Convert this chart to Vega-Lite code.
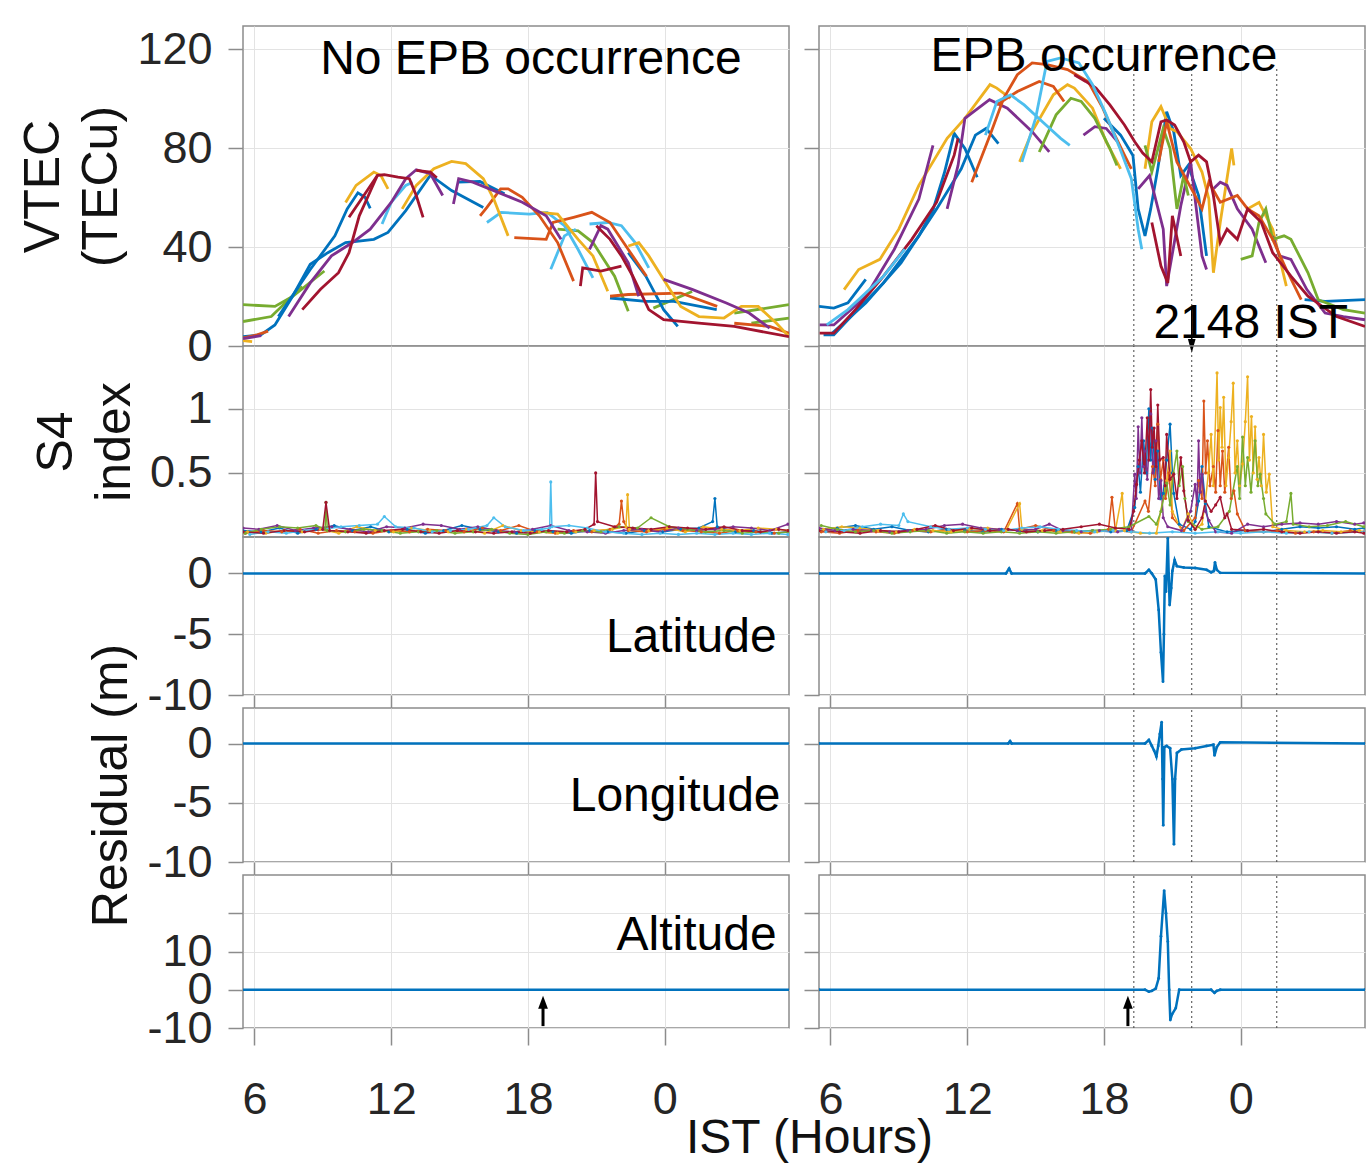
{
"$schema": "https://vega.github.io/schema/vega-lite/v6.json",
"background": "white",
"padding": {"left": 18, "top": 25, "right": 2, "bottom": 0},
"config": {
 "font": "Liberation Sans",
 "view": {"stroke": "#8c8c8c", "strokeWidth": 1.5},
 "axis": {"domain": false, "labelOverlap": false, "labelFont": "Liberation Sans", "labelFontSize": 45, "labelColor": "#262626", "titleFont": "Liberation Sans", "titleFontSize": 50, "titleFontWeight": "normal", "titleColor": "#111111", "gridColor": "#e3e3e3", "gridWidth": 1, "tickColor": "#8c8c8c", "tickWidth": 1.5, "grid": true},
 "text": {"font": "Liberation Sans"}
},
"datasets": {
 "vl": [
  {"s":"G1","c":"g","t":5.5,"v":16.7},{"s":"G1","c":"g","t":6.9,"v":16},{"s":"G1","c":"g","t":7.67,"v":20},{"s":"G1","c":"g","t":9.07,"v":30.3},
  {"s":"G2","c":"g","t":5.5,"v":9.9},{"s":"G2","c":"g","t":6.74,"v":11.9},{"s":"G2","c":"g","t":8.1,"v":24},
  {"s":"G3","c":"g","t":19.3,"v":47.2},{"s":"G3","c":"g","t":20.2,"v":46.5},{"s":"G3","c":"g","t":20.85,"v":41.8},{"s":"G3","c":"g","t":21.8,"v":28.2},{"s":"G3","c":"g","t":22.4,"v":14},
  {"s":"G4","c":"g","t":23.5,"v":15.3},{"s":"G4","c":"g","t":25.2,"v":22},
  {"s":"G5","c":"g","t":27.8,"v":9.2},{"s":"G5","c":"g","t":29.45,"v":11.3},
  {"s":"G6","c":"g","t":27.05,"v":13.3},{"s":"G6","c":"g","t":29.45,"v":16.7},
  {"s":"B1","c":"b","t":5.5,"v":3.8},{"s":"B1","c":"b","t":6.28,"v":4.5},{"s":"B1","c":"b","t":6.9,"v":8.5},{"s":"B1","c":"b","t":7.67,"v":20},{"s":"B1","c":"b","t":8.45,"v":33},{"s":"B1","c":"b","t":9.22,"v":37.7},{"s":"B1","c":"b","t":10,"v":41.8},{"s":"B1","c":"b","t":11.24,"v":43.1},{"s":"B1","c":"b","t":11.86,"v":45.9},{"s":"B1","c":"b","t":12.64,"v":54.7},{"s":"B1","c":"b","t":13.72,"v":69},{"s":"B1","c":"b","t":14.65,"v":62.8},{"s":"B1","c":"b","t":16.04,"v":56},
  {"s":"B2","c":"b","t":7.05,"v":11.9},{"s":"B2","c":"b","t":8.45,"v":30.9},{"s":"B2","c":"b","t":9.53,"v":44.5},{"s":"B2","c":"b","t":10.07,"v":55.4},{"s":"B2","c":"b","t":10.54,"v":61.9},{"s":"B2","c":"b","t":10.85,"v":60.1},{"s":"B2","c":"b","t":11.08,"v":55.6},
  {"s":"B5","c":"b","t":14.96,"v":66.2},{"s":"B5","c":"b","t":15.89,"v":66.5},{"s":"B5","c":"b","t":16.97,"v":61.5},
  {"s":"B6","c":"b","t":21.6,"v":19.4},{"s":"B6","c":"b","t":23.17,"v":18},{"s":"B6","c":"b","t":24.4,"v":18},{"s":"B6","c":"b","t":26.28,"v":14.7},
  {"s":"B7","c":"b","t":22.4,"v":37.7},{"s":"B7","c":"b","t":23.17,"v":28.2},{"s":"B7","c":"b","t":23.95,"v":14.7},{"s":"B7","c":"b","t":24.57,"v":7.9},
  {"s":"C1","c":"c","t":11.6,"v":49.3},{"s":"C1","c":"c","t":12.0,"v":58},{"s":"C1","c":"c","t":12.64,"v":64.9},{"s":"C1","c":"c","t":12.94,"v":66.2},
  {"s":"C2","c":"c","t":16.2,"v":49.9},{"s":"C2","c":"c","t":16.82,"v":54},{"s":"C2","c":"c","t":18.06,"v":53.3},{"s":"C2","c":"c","t":18.84,"v":54},{"s":"C2","c":"c","t":19.6,"v":48.6},{"s":"C2","c":"c","t":20.2,"v":39},{"s":"C2","c":"c","t":20.85,"v":27.5},
  {"s":"C3","c":"c","t":19.0,"v":31},{"s":"C3","c":"c","t":19.6,"v":44.5},{"s":"C3","c":"c","t":20.1,"v":47.2},
  {"s":"C4","c":"c","t":20.7,"v":49.3},{"s":"C4","c":"c","t":21.5,"v":49.9},{"s":"C4","c":"c","t":22.1,"v":48.6},{"s":"C4","c":"c","t":22.7,"v":41.8},{"s":"C4","c":"c","t":23.3,"v":31.6},
  {"s":"O1","c":"o","t":5.5,"v":3.3},{"s":"O1","c":"o","t":6.12,"v":4.5},{"s":"O1","c":"o","t":6.6,"v":6},
  {"s":"O2","c":"o","t":15.9,"v":52.6},{"s":"O2","c":"o","t":16.2,"v":56},{"s":"O2","c":"o","t":16.8,"v":63.5},{"s":"O2","c":"o","t":17.13,"v":63.5},{"s":"O2","c":"o","t":17.75,"v":60.1},{"s":"O2","c":"o","t":18.5,"v":52.6},{"s":"O2","c":"o","t":19.3,"v":41.8},{"s":"O2","c":"o","t":20.0,"v":26.2},
  {"s":"O3","c":"o","t":17.4,"v":43.8},{"s":"O3","c":"o","t":18.8,"v":43.1},{"s":"O3","c":"o","t":19.1,"v":49.9},{"s":"O3","c":"o","t":20.0,"v":52},{"s":"O3","c":"o","t":20.8,"v":54},{"s":"O3","c":"o","t":21.6,"v":49.9},{"s":"O3","c":"o","t":22.4,"v":39},{"s":"O3","c":"o","t":23.2,"v":28.2},
  {"s":"O4","c":"o","t":21.6,"v":20.1},{"s":"O4","c":"o","t":22.4,"v":20.8},{"s":"O4","c":"o","t":24.7,"v":21.4},{"s":"O4","c":"o","t":26.3,"v":16},
  {"s":"O5","c":"o","t":27.05,"v":9.2},{"s":"O5","c":"o","t":28.6,"v":7.9},{"s":"O5","c":"o","t":29.45,"v":5.2},
  {"s":"Y1","c":"y","t":10.0,"v":58},{"s":"Y1","c":"y","t":10.46,"v":64.9},{"s":"Y1","c":"y","t":11.24,"v":70.3},{"s":"Y1","c":"y","t":11.55,"v":68.9},{"s":"Y1","c":"y","t":11.86,"v":63.5},
  {"s":"Y2","c":"y","t":12.48,"v":55.4},{"s":"Y2","c":"y","t":13.1,"v":64.9},{"s":"Y2","c":"y","t":13.87,"v":71.6},{"s":"Y2","c":"y","t":14.65,"v":74.6},{"s":"Y2","c":"y","t":15.27,"v":73.7},{"s":"Y2","c":"y","t":16.04,"v":67.6},{"s":"Y2","c":"y","t":16.5,"v":59.4},{"s":"Y2","c":"y","t":17.13,"v":44.5},
  {"s":"Y3","c":"y","t":18.5,"v":54},{"s":"Y3","c":"y","t":19.3,"v":53.3},{"s":"Y3","c":"y","t":20.2,"v":43.1},{"s":"Y3","c":"y","t":20.85,"v":36.4},{"s":"Y3","c":"y","t":21.5,"v":22.1},
  {"s":"Y4","c":"y","t":22.4,"v":40.4},{"s":"Y4","c":"y","t":22.86,"v":41.8},{"s":"Y4","c":"y","t":23.3,"v":36.4},{"s":"Y4","c":"y","t":23.95,"v":26.9},{"s":"Y4","c":"y","t":24.7,"v":16},{"s":"Y4","c":"y","t":25.5,"v":11.9},{"s":"Y4","c":"y","t":26.6,"v":11.3},{"s":"Y4","c":"y","t":27.36,"v":16},{"s":"Y4","c":"y","t":28.1,"v":16},{"s":"Y4","c":"y","t":28.9,"v":9.2},{"s":"Y4","c":"y","t":29.45,"v":3.8},
  {"s":"Y5","c":"y","t":5.5,"v":2.2},{"s":"Y5","c":"y","t":5.9,"v":1.8},
  {"s":"P1","c":"p","t":7.5,"v":11.9},{"s":"P1","c":"p","t":8.45,"v":25.5},{"s":"P1","c":"p","t":9.38,"v":36.4},{"s":"P1","c":"p","t":10.3,"v":41.8},{"s":"P1","c":"p","t":11.08,"v":47.2},{"s":"P1","c":"p","t":12.0,"v":58},{"s":"P1","c":"p","t":12.64,"v":67.6},{"s":"P1","c":"p","t":13.1,"v":71.2},{"s":"P1","c":"p","t":13.72,"v":69.6},{"s":"P1","c":"p","t":14.26,"v":60.8},
  {"s":"P2","c":"p","t":14.73,"v":57.4},{"s":"P2","c":"p","t":14.96,"v":67.6},{"s":"P2","c":"p","t":15.58,"v":66.2},{"s":"P2","c":"p","t":16.5,"v":62.8},{"s":"P2","c":"p","t":17.75,"v":58.1},{"s":"P2","c":"p","t":18.8,"v":52.6},{"s":"P2","c":"p","t":19.45,"v":43.1},
  {"s":"P3","c":"p","t":20.7,"v":39},{"s":"P3","c":"p","t":21.2,"v":48.6},{"s":"P3","c":"p","t":21.5,"v":47.2},{"s":"P3","c":"p","t":22.4,"v":33.6},{"s":"P3","c":"p","t":22.86,"v":20.1},
  {"s":"P4","c":"p","t":23.95,"v":26.9},{"s":"P4","c":"p","t":25.2,"v":22.9},{"s":"P4","c":"p","t":26.7,"v":17.4},{"s":"P4","c":"p","t":27.7,"v":13.3},{"s":"P4","c":"p","t":28.6,"v":7.2},
  {"s":"P5","c":"p","t":5.5,"v":3},{"s":"P5","c":"p","t":6.3,"v":4.2},
  {"s":"R1","c":"r","t":8.1,"v":14.7},{"s":"R1","c":"r","t":8.9,"v":22.9},{"s":"R1","c":"r","t":9.69,"v":29.6},{"s":"R1","c":"r","t":10.15,"v":37.7},{"s":"R1","c":"r","t":10.6,"v":52.6},{"s":"R1","c":"r","t":11.4,"v":69},{"s":"R1","c":"r","t":11.7,"v":69.2},{"s":"R1","c":"r","t":12.3,"v":68.2},{"s":"R1","c":"r","t":12.8,"v":67.6},{"s":"R1","c":"r","t":13.1,"v":60.8},{"s":"R1","c":"r","t":13.4,"v":52},
  {"s":"R2","c":"r","t":10.15,"v":52},{"s":"R2","c":"r","t":10.8,"v":60.8},{"s":"R2","c":"r","t":11.4,"v":69},
  {"s":"R3","c":"r","t":13.1,"v":71},{"s":"R3","c":"r","t":13.72,"v":70.3},{"s":"R3","c":"r","t":14.0,"v":68},
  {"s":"R4","c":"r","t":21.0,"v":48.6},{"s":"R4","c":"r","t":21.6,"v":43.1},{"s":"R4","c":"r","t":22.1,"v":36.4},{"s":"R4","c":"r","t":22.6,"v":28.2},{"s":"R4","c":"r","t":23.3,"v":14.7},{"s":"R4","c":"r","t":23.95,"v":10.6},{"s":"R4","c":"r","t":25.5,"v":9.2},{"s":"R4","c":"r","t":27.05,"v":7.9},{"s":"R4","c":"r","t":29.45,"v":3.8},
  {"s":"R5","c":"r","t":20.3,"v":24.2},{"s":"R5","c":"r","t":20.4,"v":31.6},{"s":"R5","c":"r","t":21.2,"v":30.3},{"s":"R5","c":"r","t":22.1,"v":32.3}
 ],
 "vr": [
  {"s":"b1","c":"b","t":5.5,"v":16},{"s":"b1","c":"b","t":6.15,"v":15.3},{"s":"b1","c":"b","t":6.77,"v":17.4},{"s":"b1","c":"b","t":7.55,"v":26.9},
  {"s":"b2","c":"b","t":5.7,"v":4.5},{"s":"b2","c":"b","t":6.15,"v":4.5},{"s":"b2","c":"b","t":6.77,"v":10.6},{"s":"b2","c":"b","t":8.33,"v":25.5},{"s":"b2","c":"b","t":9.88,"v":44.5},{"s":"b2","c":"b","t":10.5,"v":55},{"s":"b2","c":"b","t":11.0,"v":70},{"s":"b2","c":"b","t":11.43,"v":85.9},{"s":"b2","c":"b","t":11.9,"v":79.8},{"s":"b2","c":"b","t":12.44,"v":68.2},
  {"s":"b3","c":"b","t":6.0,"v":4.5},{"s":"b3","c":"b","t":7.55,"v":17.4},{"s":"b3","c":"b","t":9.1,"v":33.6},{"s":"b3","c":"b","t":10.66,"v":55.4},{"s":"b3","c":"b","t":11.74,"v":71.6},{"s":"b3","c":"b","t":12.36,"v":85.2},{"s":"b3","c":"b","t":12.83,"v":87.9},{"s":"b3","c":"b","t":13.37,"v":81.8},
  {"s":"b4","c":"b","t":18.0,"v":92},{"s":"b4","c":"b","t":18.73,"v":85.2},{"s":"b4","c":"b","t":19.27,"v":77},{"s":"b4","c":"b","t":19.5,"v":55.4},{"s":"b4","c":"b","t":19.8,"v":44.5},{"s":"b4","c":"b","t":20.05,"v":55.4},{"s":"b4","c":"b","t":20.36,"v":71.6},{"s":"b4","c":"b","t":20.75,"v":94.7},{"s":"b4","c":"b","t":21.06,"v":86.6},{"s":"b4","c":"b","t":21.37,"v":68.9},{"s":"b4","c":"b","t":21.7,"v":73},{"s":"b4","c":"b","t":22.15,"v":60.8},{"s":"b4","c":"b","t":22.5,"v":36.4},
  {"s":"b5","c":"b","t":26.8,"v":18.7},{"s":"b5","c":"b","t":27.7,"v":18},{"s":"b5","c":"b","t":29.45,"v":18.7},
  {"s":"y1","c":"y","t":6.6,"v":22.8},{"s":"y1","c":"y","t":7.24,"v":30.9},{"s":"y1","c":"y","t":8.17,"v":35},{"s":"y1","c":"y","t":9.0,"v":47.2},{"s":"y1","c":"y","t":9.88,"v":64.9},{"s":"y1","c":"y","t":11.12,"v":83.9},{"s":"y1","c":"y","t":11.9,"v":92},{"s":"y1","c":"y","t":13.0,"v":105.6},{"s":"y1","c":"y","t":13.3,"v":104.2},{"s":"y1","c":"y","t":13.9,"v":100.1},
  {"s":"y2","c":"y","t":14.3,"v":74.4},{"s":"y2","c":"y","t":14.85,"v":86.6},{"s":"y2","c":"y","t":15.78,"v":101.5},{"s":"y2","c":"y","t":16.4,"v":105.6},{"s":"y2","c":"y","t":16.7,"v":104.2},{"s":"y2","c":"y","t":17.5,"v":96.1},{"s":"y2","c":"y","t":18.1,"v":82.5},{"s":"y2","c":"y","t":18.73,"v":71.6},
  {"s":"y3","c":"y","t":19.8,"v":71.6},{"s":"y3","c":"y","t":20.1,"v":90.6},{"s":"y3","c":"y","t":20.5,"v":96.7},{"s":"y3","c":"y","t":20.9,"v":87.9},{"s":"y3","c":"y","t":21.2,"v":86.6},{"s":"y3","c":"y","t":21.8,"v":79.8},{"s":"y3","c":"y","t":22.3,"v":70.3},{"s":"y3","c":"y","t":22.6,"v":59.4},{"s":"y3","c":"y","t":22.8,"v":29.6},{"s":"y3","c":"y","t":23.1,"v":49.9},{"s":"y3","c":"y","t":23.6,"v":79.8},{"s":"y3","c":"y","t":23.7,"v":73},
  {"s":"y4","c":"y","t":24.3,"v":55.4},{"s":"y4","c":"y","t":24.8,"v":58},{"s":"y4","c":"y","t":25.4,"v":47.2},{"s":"y4","c":"y","t":26.0,"v":24.2},
  {"s":"p1","c":"p","t":5.53,"v":8.5},{"s":"p1","c":"p","t":6.15,"v":8.5},{"s":"p1","c":"p","t":7.55,"v":20},{"s":"p1","c":"p","t":8.8,"v":39},{"s":"p1","c":"p","t":9.88,"v":59.4},{"s":"p1","c":"p","t":10.5,"v":81.1},
  {"s":"p2","c":"p","t":11.12,"v":55.4},{"s":"p2","c":"p","t":11.6,"v":73},{"s":"p2","c":"p","t":11.9,"v":92},{"s":"p2","c":"p","t":12.98,"v":99.5},{"s":"p2","c":"p","t":13.76,"v":96.1},{"s":"p2","c":"p","t":14.85,"v":86.6},{"s":"p2","c":"p","t":15.6,"v":78.4},
  {"s":"p3","c":"p","t":17.1,"v":85.2},{"s":"p3","c":"p","t":17.6,"v":88.6},{"s":"p3","c":"p","t":18.1,"v":87.9},{"s":"p3","c":"p","t":18.6,"v":82.5},
  {"s":"p4","c":"p","t":19.5,"v":63.5},{"s":"p4","c":"p","t":20.0,"v":68.9},{"s":"p4","c":"p","t":20.6,"v":47.2},{"s":"p4","c":"p","t":20.75,"v":24.2},{"s":"p4","c":"p","t":21.37,"v":56.7},{"s":"p4","c":"p","t":21.8,"v":74.4},{"s":"p4","c":"p","t":22.3,"v":36.4},{"s":"p4","c":"p","t":22.5,"v":30.9},
  {"s":"p5","c":"p","t":22.8,"v":63.5},{"s":"p5","c":"p","t":23.1,"v":66.2},{"s":"p5","c":"p","t":23.4,"v":64.9},{"s":"p5","c":"p","t":23.85,"v":55.4},{"s":"p5","c":"p","t":24.5,"v":47.2},{"s":"p5","c":"p","t":25.1,"v":33.6},
  {"s":"p6","c":"p","t":25.4,"v":44.5},{"s":"p6","c":"p","t":25.7,"v":36.4},{"s":"p6","c":"p","t":26.2,"v":35},{"s":"p6","c":"p","t":26.9,"v":22.8},{"s":"p6","c":"p","t":27.7,"v":13.3},{"s":"p6","c":"p","t":28.5,"v":11.9},{"s":"p6","c":"p","t":29.45,"v":10.6},
  {"s":"g1","c":"g","t":15.16,"v":78.4},{"s":"g1","c":"g","t":15.9,"v":93.4},{"s":"g1","c":"g","t":16.55,"v":100.1},{"s":"g1","c":"g","t":17.0,"v":98.8},{"s":"g1","c":"g","t":17.6,"v":92},{"s":"g1","c":"g","t":18.26,"v":79.8},{"s":"g1","c":"g","t":18.57,"v":73},
  {"s":"g2","c":"g","t":19.8,"v":81.1},{"s":"g2","c":"g","t":20.1,"v":70.3},{"s":"g2","c":"g","t":20.6,"v":87.9},{"s":"g2","c":"g","t":20.9,"v":79.8},{"s":"g2","c":"g","t":21.2,"v":55.4},{"s":"g2","c":"g","t":21.5,"v":68.9},{"s":"g2","c":"g","t":21.7,"v":60.8},
  {"s":"g3","c":"g","t":24.0,"v":35},{"s":"g3","c":"g","t":24.5,"v":36.4},{"s":"g3","c":"g","t":24.8,"v":49.9},{"s":"g3","c":"g","t":25.1,"v":55.4},{"s":"g3","c":"g","t":25.4,"v":43.1},{"s":"g3","c":"g","t":25.9,"v":44.5},{"s":"g3","c":"g","t":26.2,"v":43.1},{"s":"g3","c":"g","t":26.95,"v":29.6},{"s":"g3","c":"g","t":27.4,"v":18.7},{"s":"g3","c":"g","t":28.5,"v":14.7},{"s":"g3","c":"g","t":29.45,"v":13.3},
  {"s":"o1","c":"o","t":12.2,"v":66.2},{"s":"o1","c":"o","t":13.0,"v":85.2},{"s":"o1","c":"o","t":13.6,"v":100.1},{"s":"o1","c":"o","t":14.2,"v":109.6},{"s":"o1","c":"o","t":14.85,"v":114.4},{"s":"o1","c":"o","t":15.5,"v":113.7},{"s":"o1","c":"o","t":16.4,"v":111.7},{"s":"o1","c":"o","t":17.3,"v":106.9},{"s":"o1","c":"o","t":17.95,"v":96.1},{"s":"o1","c":"o","t":18.4,"v":86.6},{"s":"o1","c":"o","t":18.9,"v":77.1},{"s":"o1","c":"o","t":19.2,"v":71.6},
  {"s":"o2","c":"o","t":13.3,"v":97.4},{"s":"o2","c":"o","t":14.2,"v":102.8},{"s":"o2","c":"o","t":15.16,"v":106.9},{"s":"o2","c":"o","t":15.78,"v":104.9},{"s":"o2","c":"o","t":16.25,"v":98.8},
  {"s":"o4","c":"o","t":20.4,"v":74.4},{"s":"o4","c":"o","t":20.75,"v":90.6},{"s":"o4","c":"o","t":21.2,"v":74.4},{"s":"o4","c":"o","t":22.0,"v":60.8},{"s":"o4","c":"o","t":22.3,"v":55.4},{"s":"o4","c":"o","t":22.6,"v":66.2},{"s":"o4","c":"o","t":23.1,"v":58.1},{"s":"o4","c":"o","t":23.85,"v":60.8},{"s":"o4","c":"o","t":24.3,"v":55.4},{"s":"o4","c":"o","t":24.8,"v":52.6},{"s":"o4","c":"o","t":25.4,"v":43.1},{"s":"o4","c":"o","t":26.0,"v":30.9},{"s":"o4","c":"o","t":26.65,"v":18.7},
  {"s":"r1","c":"r","t":5.53,"v":5.2},{"s":"r1","c":"r","t":6.15,"v":5.2},{"s":"r1","c":"r","t":7.1,"v":14.7},{"s":"r1","c":"r","t":8.33,"v":28.2},{"s":"r1","c":"r","t":9.57,"v":43.1},{"s":"r1","c":"r","t":10.66,"v":58.1},{"s":"r1","c":"r","t":11.43,"v":77.1},{"s":"r1","c":"r","t":11.6,"v":83.9},
  {"s":"r2","c":"r","t":16.7,"v":109.6},{"s":"r2","c":"r","t":17.2,"v":106.9},{"s":"r2","c":"r","t":17.65,"v":104.2},{"s":"r2","c":"r","t":18.26,"v":97.4},{"s":"r2","c":"r","t":18.9,"v":89.3},{"s":"r2","c":"r","t":19.35,"v":82.5},{"s":"r2","c":"r","t":19.7,"v":78},{"s":"r2","c":"r","t":20.1,"v":74.4},{"s":"r2","c":"r","t":20.5,"v":90.6},{"s":"r2","c":"r","t":20.75,"v":91.3},{"s":"r2","c":"r","t":21.1,"v":89.3},{"s":"r2","c":"r","t":21.5,"v":82.5},{"s":"r2","c":"r","t":21.8,"v":74.4},{"s":"r2","c":"r","t":22.15,"v":77.1},{"s":"r2","c":"r","t":22.5,"v":74.4},{"s":"r2","c":"r","t":22.8,"v":60.8},{"s":"r2","c":"r","t":23.1,"v":41.8},{"s":"r2","c":"r","t":23.4,"v":47.2},{"s":"r2","c":"r","t":23.85,"v":43.1},{"s":"r2","c":"r","t":24.3,"v":55.4},{"s":"r2","c":"r","t":24.9,"v":50},{"s":"r2","c":"r","t":25.4,"v":37.7},{"s":"r2","c":"r","t":26.2,"v":28.2},{"s":"r2","c":"r","t":26.95,"v":20.1},{"s":"r2","c":"r","t":28.2,"v":11.9},{"s":"r2","c":"r","t":29.45,"v":7.9},
  {"s":"r3","c":"r","t":20.1,"v":49.9},{"s":"r3","c":"r","t":20.5,"v":32.3},{"s":"r3","c":"r","t":20.8,"v":25.5},{"s":"r3","c":"r","t":21.0,"v":52.6},{"s":"r3","c":"r","t":21.37,"v":36.4},
  {"s":"c1","c":"c","t":12.8,"v":85.2},{"s":"c1","c":"c","t":13.3,"v":98.8},{"s":"c1","c":"c","t":13.9,"v":101.5},{"s":"c1","c":"c","t":14.5,"v":97.4},{"s":"c1","c":"c","t":15.3,"v":90.6},{"s":"c1","c":"c","t":16.1,"v":83.9},{"s":"c1","c":"c","t":16.5,"v":81.1},
  {"s":"c2","c":"c","t":14.4,"v":74.4},{"s":"c2","c":"c","t":15.0,"v":92},{"s":"c2","c":"c","t":15.5,"v":115},{"s":"c2","c":"c","t":16.1,"v":116.4},{"s":"c2","c":"c","t":16.9,"v":114.4},{"s":"c2","c":"c","t":17.5,"v":105.6},{"s":"c2","c":"c","t":18.1,"v":93.4},{"s":"c2","c":"c","t":18.7,"v":79.8},{"s":"c2","c":"c","t":19.2,"v":67.6},{"s":"c2","c":"c","t":19.5,"v":47.2},{"s":"c2","c":"c","t":19.66,"v":39.1},
  {"s":"c3","c":"c","t":5.84,"v":8.5},{"s":"c3","c":"c","t":6.77,"v":14.7},{"s":"c3","c":"c","t":8.33,"v":28.2},{"s":"c3","c":"c","t":9.26,"v":39.1}
 ],
 "sl": [
  {"c":"b","t":5.5,"v":0.05},{"c":"b","t":6.3,"v":0.04},{"c":"b","t":7.1,"v":0.07},{"c":"b","t":7.9,"v":0.03},{"c":"b","t":8.7,"v":0.06},{"c":"b","t":9.5,"v":0.09},{"c":"b","t":10.3,"v":0.05},{"c":"b","t":11.1,"v":0.08},{"c":"b","t":11.9,"v":0.04},{"c":"b","t":12.7,"v":0.06},{"c":"b","t":13.5,"v":0.03},{"c":"b","t":14.3,"v":0.05},{"c":"b","t":15.1,"v":0.09},{"c":"b","t":15.9,"v":0.06},{"c":"b","t":16.7,"v":0.04},{"c":"b","t":17.5,"v":0.03},{"c":"b","t":18.3,"v":0.05},{"c":"b","t":19.1,"v":0.04},{"c":"b","t":19.9,"v":0.03},{"c":"b","t":20.7,"v":0.05},{"c":"b","t":21.5,"v":0.04},{"c":"b","t":22.3,"v":0.03},{"c":"b","t":23.1,"v":0.05},{"c":"b","t":23.9,"v":0.04},{"c":"b","t":24.7,"v":0.06},{"c":"b","t":25.5,"v":0.07},{"c":"b","t":26.1,"v":0.12},{"c":"b","t":26.2,"v":0.3},{"c":"b","t":26.3,"v":0.08},{"c":"b","t":27.1,"v":0.04},{"c":"b","t":27.9,"v":0.05},{"c":"b","t":28.7,"v":0.03},{"c":"b","t":29.4,"v":0.04},
  {"c":"o","t":5.6,"v":0.03},{"c":"o","t":6.4,"v":0.05},{"c":"o","t":7.2,"v":0.04},{"c":"o","t":8.0,"v":0.06},{"c":"o","t":8.8,"v":0.03},{"c":"o","t":9.6,"v":0.05},{"c":"o","t":10.4,"v":0.04},{"c":"o","t":11.2,"v":0.03},{"c":"o","t":12.0,"v":0.05},{"c":"o","t":12.8,"v":0.04},{"c":"o","t":13.6,"v":0.06},{"c":"o","t":14.4,"v":0.05},{"c":"o","t":15.2,"v":0.04},{"c":"o","t":16.0,"v":0.07},{"c":"o","t":16.8,"v":0.05},{"c":"o","t":17.6,"v":0.09},{"c":"o","t":18.4,"v":0.04},{"c":"o","t":19.2,"v":0.03},{"c":"o","t":20.0,"v":0.05},{"c":"o","t":20.8,"v":0.04},{"c":"o","t":21.6,"v":0.06},{"c":"o","t":22.0,"v":0.1},{"c":"o","t":22.1,"v":0.28},{"c":"o","t":22.2,"v":0.12},{"c":"o","t":22.4,"v":0.05},{"c":"o","t":23.2,"v":0.04},{"c":"o","t":24.0,"v":0.06},{"c":"o","t":24.8,"v":0.05},{"c":"o","t":25.6,"v":0.04},{"c":"o","t":26.4,"v":0.03},{"c":"o","t":27.2,"v":0.05},{"c":"o","t":28.0,"v":0.04},{"c":"o","t":28.8,"v":0.03},{"c":"o","t":29.4,"v":0.04},
  {"c":"y","t":5.7,"v":0.04},{"c":"y","t":6.5,"v":0.03},{"c":"y","t":7.3,"v":0.05},{"c":"y","t":8.1,"v":0.04},{"c":"y","t":8.9,"v":0.06},{"c":"y","t":9.7,"v":0.03},{"c":"y","t":10.5,"v":0.08},{"c":"y","t":11.3,"v":0.05},{"c":"y","t":12.1,"v":0.04},{"c":"y","t":12.9,"v":0.07},{"c":"y","t":13.7,"v":0.05},{"c":"y","t":14.5,"v":0.04},{"c":"y","t":15.3,"v":0.06},{"c":"y","t":16.1,"v":0.03},{"c":"y","t":16.9,"v":0.09},{"c":"y","t":17.7,"v":0.05},{"c":"y","t":18.5,"v":0.04},{"c":"y","t":19.3,"v":0.03},{"c":"y","t":20.1,"v":0.04},{"c":"y","t":20.9,"v":0.05},{"c":"y","t":21.7,"v":0.06},{"c":"y","t":22.3,"v":0.08},{"c":"y","t":22.37,"v":0.33},{"c":"y","t":22.45,"v":0.06},{"c":"y","t":23.3,"v":0.05},{"c":"y","t":24.1,"v":0.07},{"c":"y","t":24.9,"v":0.04},{"c":"y","t":25.7,"v":0.08},{"c":"y","t":26.5,"v":0.06},{"c":"y","t":27.3,"v":0.05},{"c":"y","t":28.1,"v":0.07},{"c":"y","t":28.9,"v":0.06},{"c":"y","t":29.4,"v":0.05},
  {"c":"p","t":5.5,"v":0.07},{"c":"p","t":6.2,"v":0.06},{"c":"p","t":7.0,"v":0.09},{"c":"p","t":7.8,"v":0.05},{"c":"p","t":8.6,"v":0.07},{"c":"p","t":9.4,"v":0.08},{"c":"p","t":10.2,"v":0.06},{"c":"p","t":11.0,"v":0.04},{"c":"p","t":11.8,"v":0.08},{"c":"p","t":12.6,"v":0.07},{"c":"p","t":13.4,"v":0.1},{"c":"p","t":14.2,"v":0.09},{"c":"p","t":15.0,"v":0.06},{"c":"p","t":15.8,"v":0.08},{"c":"p","t":16.6,"v":0.05},{"c":"p","t":17.4,"v":0.04},{"c":"p","t":18.2,"v":0.06},{"c":"p","t":19.0,"v":0.09},{"c":"p","t":19.8,"v":0.05},{"c":"p","t":20.6,"v":0.04},{"c":"p","t":21.4,"v":0.03},{"c":"p","t":22.2,"v":0.05},{"c":"p","t":23.0,"v":0.06},{"c":"p","t":23.8,"v":0.04},{"c":"p","t":24.6,"v":0.07},{"c":"p","t":25.4,"v":0.05},{"c":"p","t":26.2,"v":0.06},{"c":"p","t":27.0,"v":0.08},{"c":"p","t":27.8,"v":0.07},{"c":"p","t":28.6,"v":0.05},{"c":"p","t":29.4,"v":0.1},
  {"c":"g","t":5.6,"v":0.03},{"c":"g","t":6.3,"v":0.06},{"c":"g","t":7.1,"v":0.08},{"c":"g","t":7.9,"v":0.07},{"c":"g","t":8.7,"v":0.09},{"c":"g","t":9.1,"v":0.06},{"c":"g","t":9.14,"v":0.27},{"c":"g","t":9.2,"v":0.05},{"c":"g","t":10.0,"v":0.04},{"c":"g","t":10.8,"v":0.06},{"c":"g","t":11.6,"v":0.05},{"c":"g","t":12.4,"v":0.03},{"c":"g","t":13.2,"v":0.04},{"c":"g","t":14.0,"v":0.05},{"c":"g","t":14.8,"v":0.03},{"c":"g","t":15.6,"v":0.04},{"c":"g","t":16.4,"v":0.06},{"c":"g","t":17.2,"v":0.03},{"c":"g","t":18.0,"v":0.02},{"c":"g","t":18.8,"v":0.04},{"c":"g","t":19.6,"v":0.03},{"c":"g","t":20.4,"v":0.05},{"c":"g","t":21.2,"v":0.04},{"c":"g","t":22.0,"v":0.08},{"c":"g","t":22.8,"v":0.07},{"c":"g","t":23.4,"v":0.15},{"c":"g","t":24.2,"v":0.08},{"c":"g","t":25.0,"v":0.06},{"c":"g","t":25.8,"v":0.04},{"c":"g","t":26.6,"v":0.05},{"c":"g","t":27.4,"v":0.03},{"c":"g","t":28.2,"v":0.04},{"c":"g","t":29.0,"v":0.03},{"c":"g","t":29.4,"v":0.04},
  {"c":"c","t":5.8,"v":0.02},{"c":"c","t":6.6,"v":0.04},{"c":"c","t":7.4,"v":0.03},{"c":"c","t":8.2,"v":0.05},{"c":"c","t":9.0,"v":0.06},{"c":"c","t":9.8,"v":0.08},{"c":"c","t":10.6,"v":0.09},{"c":"c","t":11.4,"v":0.1},{"c":"c","t":11.7,"v":0.16},{"c":"c","t":12.2,"v":0.08},{"c":"c","t":13.0,"v":0.07},{"c":"c","t":13.8,"v":0.04},{"c":"c","t":14.6,"v":0.05},{"c":"c","t":15.4,"v":0.06},{"c":"c","t":16.2,"v":0.09},{"c":"c","t":16.5,"v":0.15},{"c":"c","t":17.0,"v":0.08},{"c":"c","t":17.8,"v":0.05},{"c":"c","t":18.6,"v":0.06},{"c":"c","t":18.95,"v":0.07},{"c":"c","t":19.0,"v":0.43},{"c":"c","t":19.05,"v":0.08},{"c":"c","t":19.8,"v":0.09},{"c":"c","t":20.6,"v":0.07},{"c":"c","t":21.4,"v":0.04},{"c":"c","t":22.2,"v":0.03},{"c":"c","t":23.0,"v":0.02},{"c":"c","t":23.8,"v":0.03},{"c":"c","t":24.6,"v":0.02},{"c":"c","t":25.4,"v":0.03},{"c":"c","t":26.2,"v":0.02},{"c":"c","t":27.0,"v":0.03},{"c":"c","t":27.8,"v":0.02},{"c":"c","t":28.6,"v":0.03},{"c":"c","t":29.4,"v":0.02},
  {"c":"r","t":5.5,"v":0.04},{"c":"r","t":6.4,"v":0.03},{"c":"r","t":7.3,"v":0.05},{"c":"r","t":8.2,"v":0.04},{"c":"r","t":9.0,"v":0.06},{"c":"r","t":9.14,"v":0.27},{"c":"r","t":9.3,"v":0.05},{"c":"r","t":10.1,"v":0.04},{"c":"r","t":10.9,"v":0.03},{"c":"r","t":11.7,"v":0.05},{"c":"r","t":12.5,"v":0.06},{"c":"r","t":13.3,"v":0.04},{"c":"r","t":14.1,"v":0.03},{"c":"r","t":14.9,"v":0.05},{"c":"r","t":15.7,"v":0.04},{"c":"r","t":16.5,"v":0.03},{"c":"r","t":17.3,"v":0.04},{"c":"r","t":18.1,"v":0.03},{"c":"r","t":18.9,"v":0.05},{"c":"r","t":19.7,"v":0.04},{"c":"r","t":20.5,"v":0.06},{"c":"r","t":20.9,"v":0.1},{"c":"r","t":20.97,"v":0.5},{"c":"r","t":21.05,"v":0.12},{"c":"r","t":21.8,"v":0.08},{"c":"r","t":22.6,"v":0.07},{"c":"r","t":23.4,"v":0.06},{"c":"r","t":24.2,"v":0.08},{"c":"r","t":25.0,"v":0.07},{"c":"r","t":25.8,"v":0.06},{"c":"r","t":26.6,"v":0.08},{"c":"r","t":27.4,"v":0.05},{"c":"r","t":28.2,"v":0.04},{"c":"r","t":29.0,"v":0.06},{"c":"r","t":29.4,"v":0.05}
 ],
 "sr": [
  {"c":"b","t":5.5,"v":0.05},{"c":"b","t":6.3,"v":0.07},{"c":"b","t":7.1,"v":0.09},{"c":"b","t":7.9,"v":0.06},{"c":"b","t":8.7,"v":0.08},{"c":"b","t":9.5,"v":0.05},{"c":"b","t":10.3,"v":0.04},{"c":"b","t":11.1,"v":0.06},{"c":"b","t":11.9,"v":0.05},{"c":"b","t":12.7,"v":0.04},{"c":"b","t":13.5,"v":0.06},{"c":"b","t":14.3,"v":0.05},{"c":"b","t":15.1,"v":0.04},{"c":"b","t":15.9,"v":0.05},{"c":"b","t":16.7,"v":0.04},{"c":"b","t":17.5,"v":0.05},{"c":"b","t":18.3,"v":0.04},{"c":"b","t":19.0,"v":0.05},{"c":"b","t":19.35,"v":0.23},{"c":"b","t":19.5,"v":0.55},{"c":"b","t":19.6,"v":0.35},{"c":"b","t":19.74,"v":0.75},{"c":"b","t":19.85,"v":0.5},{"c":"b","t":19.97,"v":1.0},{"c":"b","t":20.05,"v":0.6},{"c":"b","t":20.13,"v":0.85},{"c":"b","t":20.25,"v":0.45},{"c":"b","t":20.36,"v":0.67},{"c":"b","t":20.48,"v":0.3},{"c":"b","t":20.6,"v":0.34},{"c":"b","t":20.75,"v":0.6},{"c":"b","t":20.9,"v":0.88},{"c":"b","t":21.0,"v":0.5},{"c":"b","t":21.06,"v":0.34},{"c":"b","t":21.3,"v":0.1},{"c":"b","t":21.8,"v":0.06},{"c":"b","t":22.0,"v":0.12},{"c":"b","t":22.15,"v":0.28},{"c":"b","t":22.3,"v":0.55},{"c":"b","t":22.45,"v":0.26},{"c":"b","t":22.6,"v":0.08},{"c":"b","t":23.4,"v":0.04},{"c":"b","t":24.2,"v":0.05},{"c":"b","t":25.0,"v":0.04},{"c":"b","t":25.8,"v":0.06},{"c":"b","t":26.6,"v":0.08},{"c":"b","t":27.4,"v":0.07},{"c":"b","t":28.2,"v":0.08},{"c":"b","t":29.0,"v":0.06},{"c":"b","t":29.4,"v":0.07},
  {"c":"o","t":5.6,"v":0.04},{"c":"o","t":6.4,"v":0.03},{"c":"o","t":7.2,"v":0.05},{"c":"o","t":8.0,"v":0.04},{"c":"o","t":8.8,"v":0.03},{"c":"o","t":9.6,"v":0.05},{"c":"o","t":10.4,"v":0.04},{"c":"o","t":11.2,"v":0.06},{"c":"o","t":12.0,"v":0.04},{"c":"o","t":12.8,"v":0.05},{"c":"o","t":13.6,"v":0.04},{"c":"o","t":14.2,"v":0.26},{"c":"o","t":14.3,"v":0.06},{"c":"o","t":15.0,"v":0.09},{"c":"o","t":15.8,"v":0.05},{"c":"o","t":16.6,"v":0.04},{"c":"o","t":17.4,"v":0.03},{"c":"o","t":18.2,"v":0.06},{"c":"o","t":18.35,"v":0.31},{"c":"o","t":18.5,"v":0.05},{"c":"o","t":19.2,"v":0.04},{"c":"o","t":19.8,"v":0.28},{"c":"o","t":19.95,"v":0.2},{"c":"o","t":20.13,"v":0.55},{"c":"o","t":20.25,"v":0.4},{"c":"o","t":20.36,"v":0.88},{"c":"o","t":20.48,"v":0.45},{"c":"o","t":20.6,"v":0.6},{"c":"o","t":20.7,"v":0.3},{"c":"o","t":20.85,"v":0.5},{"c":"o","t":21.0,"v":0.15},{"c":"o","t":21.5,"v":0.05},{"c":"o","t":22.0,"v":0.15},{"c":"o","t":22.15,"v":0.44},{"c":"o","t":22.3,"v":0.3},{"c":"o","t":22.38,"v":1.06},{"c":"o","t":22.46,"v":0.5},{"c":"o","t":22.54,"v":0.75},{"c":"o","t":22.65,"v":0.4},{"c":"o","t":22.8,"v":0.55},{"c":"o","t":22.9,"v":0.35},{"c":"o","t":23.0,"v":0.83},{"c":"o","t":23.1,"v":0.4},{"c":"o","t":23.2,"v":0.67},{"c":"o","t":23.3,"v":0.35},{"c":"o","t":23.47,"v":0.7},{"c":"o","t":23.58,"v":0.3},{"c":"o","t":23.7,"v":0.36},{"c":"o","t":23.85,"v":0.18},{"c":"o","t":24.2,"v":0.05},{"c":"o","t":25.0,"v":0.04},{"c":"o","t":25.6,"v":0.05},{"c":"o","t":26.4,"v":0.03},{"c":"o","t":27.2,"v":0.04},{"c":"o","t":28.0,"v":0.03},{"c":"o","t":28.8,"v":0.05},{"c":"o","t":29.4,"v":0.04},
  {"c":"y","t":5.7,"v":0.06},{"c":"y","t":6.5,"v":0.08},{"c":"y","t":7.3,"v":0.07},{"c":"y","t":8.1,"v":0.05},{"c":"y","t":8.9,"v":0.04},{"c":"y","t":9.7,"v":0.06},{"c":"y","t":10.5,"v":0.05},{"c":"y","t":11.3,"v":0.04},{"c":"y","t":12.1,"v":0.06},{"c":"y","t":12.9,"v":0.07},{"c":"y","t":13.7,"v":0.05},{"c":"y","t":14.3,"v":0.26},{"c":"y","t":14.4,"v":0.06},{"c":"y","t":15.3,"v":0.05},{"c":"y","t":16.1,"v":0.04},{"c":"y","t":16.9,"v":0.03},{"c":"y","t":17.7,"v":0.04},{"c":"y","t":18.5,"v":0.05},{"c":"y","t":18.8,"v":0.34},{"c":"y","t":18.9,"v":0.05},{"c":"y","t":19.6,"v":0.03},{"c":"y","t":20.3,"v":0.03},{"c":"y","t":20.75,"v":0.44},{"c":"y","t":20.9,"v":0.67},{"c":"y","t":21.0,"v":0.2},{"c":"y","t":21.4,"v":0.05},{"c":"y","t":21.7,"v":0.18},{"c":"y","t":22.0,"v":0.06},{"c":"y","t":22.3,"v":0.1},{"c":"y","t":22.45,"v":0.28},{"c":"y","t":22.58,"v":0.5},{"c":"y","t":22.7,"v":0.8},{"c":"y","t":22.8,"v":0.4},{"c":"y","t":22.96,"v":1.28},{"c":"y","t":23.03,"v":0.6},{"c":"y","t":23.1,"v":1.01},{"c":"y","t":23.18,"v":0.7},{"c":"y","t":23.25,"v":1.09},{"c":"y","t":23.35,"v":0.4},{"c":"y","t":23.47,"v":0.62},{"c":"y","t":23.58,"v":0.9},{"c":"y","t":23.67,"v":1.2},{"c":"y","t":23.75,"v":0.5},{"c":"y","t":23.85,"v":0.75},{"c":"y","t":23.95,"v":0.4},{"c":"y","t":24.08,"v":0.57},{"c":"y","t":24.2,"v":0.9},{"c":"y","t":24.3,"v":1.25},{"c":"y","t":24.38,"v":0.6},{"c":"y","t":24.47,"v":0.94},{"c":"y","t":24.55,"v":0.5},{"c":"y","t":24.63,"v":0.86},{"c":"y","t":24.72,"v":0.45},{"c":"y","t":24.8,"v":0.62},{"c":"y","t":24.9,"v":0.4},{"c":"y","t":25.0,"v":0.8},{"c":"y","t":25.12,"v":0.35},{"c":"y","t":25.25,"v":0.49},{"c":"y","t":25.4,"v":0.08},{"c":"y","t":26.0,"v":0.05},{"c":"y","t":26.8,"v":0.04},{"c":"y","t":27.6,"v":0.05},{"c":"y","t":28.4,"v":0.04},{"c":"y","t":29.2,"v":0.05},{"c":"y","t":29.4,"v":0.04},
  {"c":"p","t":5.5,"v":0.07},{"c":"p","t":6.2,"v":0.05},{"c":"p","t":7.0,"v":0.06},{"c":"p","t":7.8,"v":0.05},{"c":"p","t":8.6,"v":0.04},{"c":"p","t":9.4,"v":0.05},{"c":"p","t":10.2,"v":0.06},{"c":"p","t":11.0,"v":0.09},{"c":"p","t":11.8,"v":0.1},{"c":"p","t":12.6,"v":0.07},{"c":"p","t":13.4,"v":0.06},{"c":"p","t":14.2,"v":0.05},{"c":"p","t":15.0,"v":0.06},{"c":"p","t":15.6,"v":0.1},{"c":"p","t":16.2,"v":0.05},{"c":"p","t":17.0,"v":0.04},{"c":"p","t":17.8,"v":0.05},{"c":"p","t":18.6,"v":0.04},{"c":"p","t":19.2,"v":0.05},{"c":"p","t":19.35,"v":0.49},{"c":"p","t":19.42,"v":0.3},{"c":"p","t":19.5,"v":0.86},{"c":"p","t":19.58,"v":0.5},{"c":"p","t":19.66,"v":0.93},{"c":"p","t":19.73,"v":0.55},{"c":"p","t":19.8,"v":0.67},{"c":"p","t":19.9,"v":0.45},{"c":"p","t":20.05,"v":0.96},{"c":"p","t":20.15,"v":0.5},{"c":"p","t":20.28,"v":0.75},{"c":"p","t":20.4,"v":0.3},{"c":"p","t":20.5,"v":0.44},{"c":"p","t":20.6,"v":0.15},{"c":"p","t":20.8,"v":0.08},{"c":"p","t":21.4,"v":0.05},{"c":"p","t":21.8,"v":0.2},{"c":"p","t":22.0,"v":0.41},{"c":"p","t":22.08,"v":0.25},{"c":"p","t":22.15,"v":0.75},{"c":"p","t":22.22,"v":0.35},{"c":"p","t":22.3,"v":0.49},{"c":"p","t":22.45,"v":0.2},{"c":"p","t":22.6,"v":0.13},{"c":"p","t":22.9,"v":0.04},{"c":"p","t":23.6,"v":0.03},{"c":"p","t":24.3,"v":0.1},{"c":"p","t":25.0,"v":0.08},{"c":"p","t":25.8,"v":0.1},{"c":"p","t":26.6,"v":0.11},{"c":"p","t":27.4,"v":0.1},{"c":"p","t":28.2,"v":0.12},{"c":"p","t":29.0,"v":0.1},{"c":"p","t":29.4,"v":0.11},
  {"c":"g","t":5.6,"v":0.09},{"c":"g","t":6.3,"v":0.06},{"c":"g","t":7.1,"v":0.04},{"c":"g","t":7.9,"v":0.05},{"c":"g","t":8.7,"v":0.03},{"c":"g","t":9.5,"v":0.04},{"c":"g","t":10.3,"v":0.05},{"c":"g","t":11.1,"v":0.03},{"c":"g","t":11.9,"v":0.04},{"c":"g","t":12.7,"v":0.03},{"c":"g","t":13.5,"v":0.04},{"c":"g","t":14.3,"v":0.03},{"c":"g","t":15.1,"v":0.04},{"c":"g","t":15.9,"v":0.03},{"c":"g","t":16.7,"v":0.04},{"c":"g","t":17.5,"v":0.05},{"c":"g","t":18.3,"v":0.06},{"c":"g","t":19.1,"v":0.08},{"c":"g","t":19.97,"v":0.16},{"c":"g","t":20.3,"v":0.1},{"c":"g","t":20.5,"v":0.2},{"c":"g","t":20.75,"v":0.42},{"c":"g","t":20.9,"v":0.25},{"c":"g","t":21.05,"v":0.5},{"c":"g","t":21.2,"v":0.67},{"c":"g","t":21.3,"v":0.4},{"c":"g","t":21.45,"v":0.55},{"c":"g","t":21.55,"v":0.3},{"c":"g","t":21.7,"v":0.12},{"c":"g","t":22.3,"v":0.06},{"c":"g","t":23.0,"v":0.08},{"c":"g","t":23.5,"v":0.2},{"c":"g","t":23.85,"v":0.55},{"c":"g","t":23.95,"v":0.3},{"c":"g","t":24.08,"v":0.78},{"c":"g","t":24.2,"v":0.4},{"c":"g","t":24.3,"v":0.62},{"c":"g","t":24.45,"v":0.35},{"c":"g","t":24.63,"v":0.75},{"c":"g","t":24.75,"v":0.4},{"c":"g","t":24.85,"v":0.49},{"c":"g","t":25.0,"v":0.3},{"c":"g","t":25.1,"v":0.18},{"c":"g","t":25.5,"v":0.1},{"c":"g","t":26.0,"v":0.12},{"c":"g","t":26.2,"v":0.34},{"c":"g","t":26.3,"v":0.1},{"c":"g","t":27.0,"v":0.08},{"c":"g","t":27.8,"v":0.09},{"c":"g","t":28.6,"v":0.12},{"c":"g","t":29.4,"v":0.08},
  {"c":"c","t":5.8,"v":0.04},{"c":"c","t":6.6,"v":0.05},{"c":"c","t":7.4,"v":0.08},{"c":"c","t":8.2,"v":0.1},{"c":"c","t":9.0,"v":0.09},{"c":"c","t":9.2,"v":0.18},{"c":"c","t":9.4,"v":0.12},{"c":"c","t":10.4,"v":0.08},{"c":"c","t":11.2,"v":0.06},{"c":"c","t":12.0,"v":0.07},{"c":"c","t":12.8,"v":0.06},{"c":"c","t":13.6,"v":0.05},{"c":"c","t":14.4,"v":0.07},{"c":"c","t":15.2,"v":0.08},{"c":"c","t":16.0,"v":0.06},{"c":"c","t":16.8,"v":0.05},{"c":"c","t":17.6,"v":0.04},{"c":"c","t":18.4,"v":0.05},{"c":"c","t":19.2,"v":0.04},{"c":"c","t":20.0,"v":0.03},{"c":"c","t":21.0,"v":0.04},{"c":"c","t":22.0,"v":0.03},{"c":"c","t":23.0,"v":0.04},{"c":"c","t":24.0,"v":0.03},{"c":"c","t":25.0,"v":0.04},{"c":"c","t":26.0,"v":0.03},{"c":"c","t":27.0,"v":0.04},{"c":"c","t":28.0,"v":0.03},{"c":"c","t":29.4,"v":0.04},
  {"c":"r","t":5.5,"v":0.05},{"c":"r","t":6.4,"v":0.04},{"c":"r","t":7.3,"v":0.03},{"c":"r","t":8.2,"v":0.05},{"c":"r","t":9.0,"v":0.04},{"c":"r","t":9.8,"v":0.06},{"c":"r","t":10.6,"v":0.09},{"c":"r","t":11.4,"v":0.05},{"c":"r","t":12.2,"v":0.07},{"c":"r","t":13.0,"v":0.05},{"c":"r","t":13.8,"v":0.06},{"c":"r","t":14.6,"v":0.04},{"c":"r","t":15.4,"v":0.05},{"c":"r","t":16.2,"v":0.06},{"c":"r","t":17.0,"v":0.08},{"c":"r","t":17.8,"v":0.1},{"c":"r","t":18.5,"v":0.07},{"c":"r","t":19.1,"v":0.06},{"c":"r","t":19.3,"v":0.2},{"c":"r","t":19.43,"v":0.41},{"c":"r","t":19.55,"v":0.6},{"c":"r","t":19.66,"v":0.75},{"c":"r","t":19.78,"v":0.5},{"c":"r","t":19.9,"v":0.93},{"c":"r","t":19.97,"v":0.6},{"c":"r","t":20.05,"v":1.15},{"c":"r","t":20.12,"v":0.7},{"c":"r","t":20.2,"v":0.85},{"c":"r","t":20.28,"v":0.55},{"c":"r","t":20.36,"v":1.03},{"c":"r","t":20.45,"v":0.6},{"c":"r","t":20.6,"v":0.62},{"c":"r","t":20.68,"v":0.4},{"c":"r","t":20.75,"v":0.8},{"c":"r","t":20.9,"v":0.45},{"c":"r","t":21.06,"v":0.49},{"c":"r","t":21.2,"v":0.3},{"c":"r","t":21.37,"v":0.62},{"c":"r","t":21.5,"v":0.36},{"c":"r","t":21.7,"v":0.13},{"c":"r","t":22.0,"v":0.06},{"c":"r","t":22.3,"v":0.15},{"c":"r","t":22.45,"v":0.28},{"c":"r","t":22.7,"v":0.2},{"c":"r","t":22.9,"v":0.25},{"c":"r","t":23.1,"v":0.31},{"c":"r","t":23.3,"v":0.15},{"c":"r","t":23.4,"v":0.18},{"c":"r","t":23.6,"v":0.06},{"c":"r","t":24.3,"v":0.05},{"c":"r","t":25.0,"v":0.06},{"c":"r","t":25.8,"v":0.04},{"c":"r","t":26.6,"v":0.03},{"c":"r","t":27.4,"v":0.04},{"c":"r","t":28.2,"v":0.03},{"c":"r","t":29.0,"v":0.04},{"c":"r","t":29.4,"v":0.03}
 ],
 "res": [
  {"k":"latL","t":5.5,"v":0},{"k":"latL","t":29.45,"v":0},
  {"k":"lonL","t":5.5,"v":0},{"k":"lonL","t":29.45,"v":0},
  {"k":"altL","t":5.5,"v":0},{"k":"altL","t":29.45,"v":0},
  {"k":"latR","t":5.5,"v":0},{"k":"latR","t":13.7,"v":0},{"k":"latR","t":13.84,"v":0.4},{"k":"latR","t":13.95,"v":0},{"k":"latR","t":19.8,"v":0},{"k":"latR","t":19.97,"v":0.3},{"k":"latR","t":20.1,"v":0},{"k":"latR","t":20.27,"v":-0.5},{"k":"latR","t":20.4,"v":-3},{"k":"latR","t":20.5,"v":-6.5},{"k":"latR","t":20.59,"v":-8.9},{"k":"latR","t":20.63,"v":-5},{"k":"latR","t":20.67,"v":-0.2},{"k":"latR","t":20.72,"v":-1.5},{"k":"latR","t":20.8,"v":2.9},{"k":"latR","t":20.84,"v":0},{"k":"latR","t":20.88,"v":-2.6},{"k":"latR","t":20.95,"v":-1.2},{"k":"latR","t":21.0,"v":0.2},{"k":"latR","t":21.1,"v":1.1},{"k":"latR","t":21.2,"v":0.6},{"k":"latR","t":21.5,"v":0.5},{"k":"latR","t":22.0,"v":0.45},{"k":"latR","t":22.5,"v":0.3},{"k":"latR","t":22.7,"v":0.1},{"k":"latR","t":22.82,"v":0.2},{"k":"latR","t":22.87,"v":0.9},{"k":"latR","t":22.95,"v":0.3},{"k":"latR","t":23.1,"v":0.05},{"k":"latR","t":29.45,"v":0},
  {"k":"lonR","t":5.5,"v":0},{"k":"lonR","t":13.8,"v":0},{"k":"lonR","t":13.88,"v":0.2},{"k":"lonR","t":13.95,"v":0},{"k":"lonR","t":19.8,"v":0},{"k":"lonR","t":19.97,"v":0.3},{"k":"lonR","t":20.1,"v":-0.2},{"k":"lonR","t":20.2,"v":-0.6},{"k":"lonR","t":20.3,"v":-1.1},{"k":"lonR","t":20.38,"v":-0.2},{"k":"lonR","t":20.45,"v":0.8},{"k":"lonR","t":20.53,"v":1.8},{"k":"lonR","t":20.57,"v":-3},{"k":"lonR","t":20.6,"v":-6.9},{"k":"lonR","t":20.65,"v":-0.3},{"k":"lonR","t":20.75,"v":-0.2},{"k":"lonR","t":20.9,"v":-0.4},{"k":"lonR","t":21.0,"v":-3},{"k":"lonR","t":21.07,"v":-8.5},{"k":"lonR","t":21.12,"v":-3},{"k":"lonR","t":21.2,"v":-0.8},{"k":"lonR","t":21.4,"v":-0.5},{"k":"lonR","t":22.0,"v":-0.4},{"k":"lonR","t":22.5,"v":-0.2},{"k":"lonR","t":22.8,"v":-0.1},{"k":"lonR","t":22.85,"v":-1.0},{"k":"lonR","t":22.95,"v":-0.3},{"k":"lonR","t":23.1,"v":0.1},{"k":"lonR","t":29.45,"v":0},
  {"k":"altR","t":5.5,"v":0},{"k":"altR","t":19.8,"v":0},{"k":"altR","t":19.97,"v":-0.5},{"k":"altR","t":20.1,"v":-0.3},{"k":"altR","t":20.27,"v":0.3},{"k":"altR","t":20.4,"v":3},{"k":"altR","t":20.5,"v":14},{"k":"altR","t":20.64,"v":25.9},{"k":"altR","t":20.72,"v":20},{"k":"altR","t":20.8,"v":12.6},{"k":"altR","t":20.86,"v":0},{"k":"altR","t":20.91,"v":-7.9},{"k":"altR","t":20.98,"v":-6.5},{"k":"altR","t":21.15,"v":-4.8},{"k":"altR","t":21.3,"v":0},{"k":"altR","t":22.7,"v":0},{"k":"altR","t":22.85,"v":-0.8},{"k":"altR","t":22.95,"v":-0.3},{"k":"altR","t":23.1,"v":0},{"k":"altR","t":29.45,"v":0}
 ]
},
"columns": 2,
"bounds": "flush",
"align": "each",
"spacing": {"row": 0, "column": 30},
"concat": [
 {"width": 546, "height": 320,
  "encoding": {
   "x": {"field":"t","type":"quantitative","scale":{"domain":[5.5,29.45],"nice":false,"zero":false},"axis":{"values":[6,12,18,24],"labels":false,"ticks":false,"title":null}},
   "y": {"field":"v","type":"quantitative","scale":{"domain":[0,129.3],"nice":false,"zero":false},"axis":{"values":[0,40,80,120],"labelExpr":"datum.value + ''","title":["VTEC","(TECu)"],"titleLineHeight":58,"tickSize":15,"labelPadding":16,"titlePadding":10}}
  },
  "layer": [
   {"data":{"name":"vl"},"mark":{"type":"line","strokeWidth":2.8,"clip":true},"encoding":{"color":{"field":"c","type":"nominal","scale":{"domain":["b","o","y","p","g","c","r"],"range":["#0072BD","#D95319","#EDB120","#7E2F8E","#77AC30","#4DBEEE","#A2142F"]},"legend":null},"detail":{"field":"s"}}},
   {"data":{"values":[{"t":18.13,"v":109.9,"txt":"No EPB occurrence"}]},"mark":{"type":"text","fontSize":48,"align":"center","baseline":"alphabetic","color":"#000000"},"encoding":{"text":{"field":"txt"}}}
  ]
 },
 {"width": 546, "height": 320,
  "encoding": {
   "x": {"field":"t","type":"quantitative","scale":{"domain":[5.5,29.45],"nice":false,"zero":false},"axis":{"values":[6,12,18,24],"labels":false,"ticks":false,"title":null}},
   "y": {"field":"v","type":"quantitative","scale":{"domain":[0,129.3],"nice":false,"zero":false},"axis":{"values":[0,40,80,120],"labels":false,"title":null,"tickSize":15}}
  },
  "layer": [
   {"data":{"values":[{"t":19.31,"v":0,"v2":112},{"t":21.85,"v":0,"v2":112},{"t":25.58,"v":0,"v2":112}]},"mark":{"type":"rule","color":"#444444","strokeWidth":1,"strokeDash":[2,3]},"encoding":{"y2":{"field":"v2"}}},
   {"data":{"name":"vr"},"mark":{"type":"line","strokeWidth":2.8,"clip":true},"encoding":{"color":{"field":"c","type":"nominal","scale":{"domain":["b","o","y","p","g","c","r"],"range":["#0072BD","#D95319","#EDB120","#7E2F8E","#77AC30","#4DBEEE","#A2142F"]},"legend":null},"detail":{"field":"s"}}},
   {"data":{"values":[{"t":18.0,"v":111,"txt":"EPB occurrence"},{"t":24.44,"v":3.2,"txt":"2148 IST"}]},"mark":{"type":"text","fontSize":48,"align":"center","baseline":"alphabetic","color":"#000000"},"encoding":{"text":{"field":"txt"}}},
   {"data":{"values":[{"t":21.85,"v":15,"v2":1}]},"mark":{"type":"rule","color":"#000000","strokeWidth":1.5},"encoding":{"y2":{"field":"v2"}}},
   {"data":{"values":[{"t":21.85,"v":0}]},"mark":{"type":"point","shape":"M-0.55,-1L0.55,-1L0,1Z","filled":true,"size":196,"color":"#000000","opacity":1},"encoding":{}}
  ]
 },
 {"width": 546, "height": 191,
  "encoding": {
   "x": {"field":"t","type":"quantitative","scale":{"domain":[5.5,29.45],"nice":false,"zero":false},"axis":{"values":[6,12,18,24],"labels":false,"ticks":false,"title":null}},
   "y": {"field":"v","type":"quantitative","scale":{"domain":[0,1.49],"nice":false,"zero":false},"axis":{"values":[0.5,1],"labelExpr":"datum.value + ''","title":["S4","index"],"titleLineHeight":58,"tickSize":15,"labelPadding":16,"titlePadding":10}}
  },
  "layer": [
   {"data":{"name":"sl"},"mark":{"type":"line","strokeWidth":1.5,"clip":true,"point":{"filled":true,"size":10}},"encoding":{"color":{"field":"c","type":"nominal","scale":{"domain":["b","o","y","p","g","c","r"],"range":["#0072BD","#D95319","#EDB120","#7E2F8E","#77AC30","#4DBEEE","#A2142F"]},"legend":null}}}
  ]
 },
 {"width": 546, "height": 191,
  "encoding": {
   "x": {"field":"t","type":"quantitative","scale":{"domain":[5.5,29.45],"nice":false,"zero":false},"axis":{"values":[6,12,18,24],"labels":false,"ticks":false,"title":null}},
   "y": {"field":"v","type":"quantitative","scale":{"domain":[0,1.49],"nice":false,"zero":false},"axis":{"values":[0.5,1],"labels":false,"title":null,"tickSize":15}}
  },
  "layer": [
   {"data":{"values":[{"t":19.31,"v":0,"v2":1.49},{"t":21.85,"v":0,"v2":1.49},{"t":25.58,"v":0,"v2":1.49}]},"mark":{"type":"rule","color":"#444444","strokeWidth":1,"strokeDash":[2,3]},"encoding":{"y2":{"field":"v2"}}},
   {"data":{"name":"sr"},"mark":{"type":"line","strokeWidth":1.5,"clip":true,"point":{"filled":true,"size":10}},"encoding":{"color":{"field":"c","type":"nominal","scale":{"domain":["b","o","y","p","g","c","r"],"range":["#0072BD","#D95319","#EDB120","#7E2F8E","#77AC30","#4DBEEE","#A2142F"]},"legend":null}}}
  ]
 },
 {"width": 546, "height": 158,
  "encoding": {
   "x": {"field":"t","type":"quantitative","scale":{"domain":[5.5,29.45],"nice":false,"zero":false},"axis":{"values":[6,12,18,24],"labels":false,"tickSize":13,"title":null}},
   "y": {"field":"v","type":"quantitative","scale":{"domain":[-10,3],"nice":false,"zero":false},"axis":{"values":[-10,-5,0],"labelExpr":"datum.value + ''","title":null,"tickSize":15,"labelPadding":16}}
  },
  "layer": [
   {"data":{"name":"res"},"transform":[{"filter":"datum.k == 'latL'"}],"mark":{"type":"line","strokeWidth":2.5,"color":"#0072BD","clip":true}},
   {"data":{"values":[{"t":28.91,"v":-6.5,"txt":"Latitude"}]},"mark":{"type":"text","fontSize":48,"align":"right","baseline":"alphabetic","color":"#000000"},"encoding":{"text":{"field":"txt"}}}
  ]
 },
 {"width": 546, "height": 158,
  "encoding": {
   "x": {"field":"t","type":"quantitative","scale":{"domain":[5.5,29.45],"nice":false,"zero":false},"axis":{"values":[6,12,18,24],"labels":false,"tickSize":13,"title":null}},
   "y": {"field":"v","type":"quantitative","scale":{"domain":[-10,3],"nice":false,"zero":false},"axis":{"values":[-10,-5,0],"labels":false,"title":null,"tickSize":15}}
  },
  "layer": [
   {"data":{"values":[{"t":19.31,"v":-10,"v2":3},{"t":21.85,"v":-10,"v2":3},{"t":25.58,"v":-10,"v2":3}]},"mark":{"type":"rule","color":"#444444","strokeWidth":1,"strokeDash":[2,3]},"encoding":{"y2":{"field":"v2"}}},
   {"data":{"name":"res"},"transform":[{"filter":"datum.k == 'latR'"}],"mark":{"type":"line","strokeWidth":2.5,"color":"#0072BD","clip":true,"point":{"filled":true,"size":8,"color":"#0072BD"}}}
  ]
 },
 {"width": 546, "height": 13, "data": {"values": []}, "mark": "point", "view": {"stroke": null}},
 {"width": 546, "height": 13, "data": {"values": []}, "mark": "point", "view": {"stroke": null}},
 {"width": 546, "height": 154,
  "encoding": {
   "x": {"field":"t","type":"quantitative","scale":{"domain":[5.5,29.45],"nice":false,"zero":false},"axis":{"values":[6,12,18,24],"labels":false,"tickSize":13,"title":null}},
   "y": {"field":"v","type":"quantitative","scale":{"domain":[-10,3],"nice":false,"zero":false},"axis":{"values":[-10,-5,0],"labelExpr":"datum.value + ''","title":"Residual (m)","tickSize":15,"labelPadding":16,"titlePadding":10}}
  },
  "layer": [
   {"data":{"name":"res"},"transform":[{"filter":"datum.k == 'lonL'"}],"mark":{"type":"line","strokeWidth":2.5,"color":"#0072BD","clip":true}},
   {"data":{"values":[{"t":29.08,"v":-5.7,"txt":"Longitude"}]},"mark":{"type":"text","fontSize":48,"align":"right","baseline":"alphabetic","color":"#000000"},"encoding":{"text":{"field":"txt"}}}
  ]
 },
 {"width": 546, "height": 154,
  "encoding": {
   "x": {"field":"t","type":"quantitative","scale":{"domain":[5.5,29.45],"nice":false,"zero":false},"axis":{"values":[6,12,18,24],"labels":false,"tickSize":13,"title":null}},
   "y": {"field":"v","type":"quantitative","scale":{"domain":[-10,3],"nice":false,"zero":false},"axis":{"values":[-10,-5,0],"labels":false,"title":null,"tickSize":15}}
  },
  "layer": [
   {"data":{"values":[{"t":19.31,"v":-10,"v2":3},{"t":21.85,"v":-10,"v2":3},{"t":25.58,"v":-10,"v2":3}]},"mark":{"type":"rule","color":"#444444","strokeWidth":1,"strokeDash":[2,3]},"encoding":{"y2":{"field":"v2"}}},
   {"data":{"name":"res"},"transform":[{"filter":"datum.k == 'lonR'"}],"mark":{"type":"line","strokeWidth":2.5,"color":"#0072BD","clip":true,"point":{"filled":true,"size":8,"color":"#0072BD"}}}
  ]
 },
 {"width": 546, "height": 13, "data": {"values": []}, "mark": "point", "view": {"stroke": null}},
 {"width": 546, "height": 13, "data": {"values": []}, "mark": "point", "view": {"stroke": null}},
 {"width": 546, "height": 153,
  "encoding": {
   "x": {"field":"t","type":"quantitative","scale":{"domain":[5.5,29.45],"nice":false,"zero":false},"axis":{"values":[6,12,18,24],"labelExpr":"(datum.value % 24) + ''","tickSize":17,"labelPadding":68,"labelBaseline":"alphabetic","title":"IST (Hours)","titleFontSize":48,"titleX":566,"titleY":124,"titleBaseline":"alphabetic","titleAlign":"center"}},
   "y": {"field":"v","type":"quantitative","scale":{"domain":[-10,30],"nice":false,"zero":false},"axis":{"values":[-10,0,10,20],"labelExpr":"datum.value == 20 ? '' : datum.value + ''","title":null,"tickSize":15,"labelPadding":16}}
  },
  "layer": [
   {"data":{"name":"res"},"transform":[{"filter":"datum.k == 'altL'"}],"mark":{"type":"line","strokeWidth":2.5,"color":"#0072BD","clip":true}},
   {"data":{"values":[{"t":28.91,"v":10.5,"txt":"Altitude"}]},"mark":{"type":"text","fontSize":48,"align":"right","baseline":"alphabetic","color":"#000000"},"encoding":{"text":{"field":"txt"}}},
   {"data":{"values":[{"t":18.66,"v":-9.5,"v2":-3}]},"mark":{"type":"rule","color":"#000000","strokeWidth":3},"encoding":{"y2":{"field":"v2"}}},
   {"data":{"values":[{"t":18.66,"v":-3.3}]},"mark":{"type":"point","shape":"M0,-1L0.75,1L-0.75,1Z","filled":true,"size":169,"color":"#000000","opacity":1},"encoding":{}}
  ]
 },
 {"width": 546, "height": 153,
  "encoding": {
   "x": {"field":"t","type":"quantitative","scale":{"domain":[5.5,29.45],"nice":false,"zero":false},"axis":{"values":[6,12,18,24],"labelExpr":"(datum.value % 24) + ''","tickSize":17,"labelPadding":68,"labelBaseline":"alphabetic","title":null}},
   "y": {"field":"v","type":"quantitative","scale":{"domain":[-10,30],"nice":false,"zero":false},"axis":{"values":[-10,0,10,20],"labels":false,"title":null,"tickSize":15}}
  },
  "layer": [
   {"data":{"values":[{"t":19.31,"v":-10,"v2":30},{"t":21.85,"v":-10,"v2":30},{"t":25.58,"v":-10,"v2":30}]},"mark":{"type":"rule","color":"#444444","strokeWidth":1,"strokeDash":[2,3]},"encoding":{"y2":{"field":"v2"}}},
   {"data":{"name":"res"},"transform":[{"filter":"datum.k == 'altR'"}],"mark":{"type":"line","strokeWidth":2.5,"color":"#0072BD","clip":true,"point":{"filled":true,"size":8,"color":"#0072BD"}}},
   {"data":{"values":[{"t":19.05,"v":-9.5,"v2":-3}]},"mark":{"type":"rule","color":"#000000","strokeWidth":3},"encoding":{"y2":{"field":"v2"}}},
   {"data":{"values":[{"t":19.05,"v":-3.3}]},"mark":{"type":"point","shape":"M0,-1L0.75,1L-0.75,1Z","filled":true,"size":169,"color":"#000000","opacity":1},"encoding":{}}
  ]
 }
]
}
